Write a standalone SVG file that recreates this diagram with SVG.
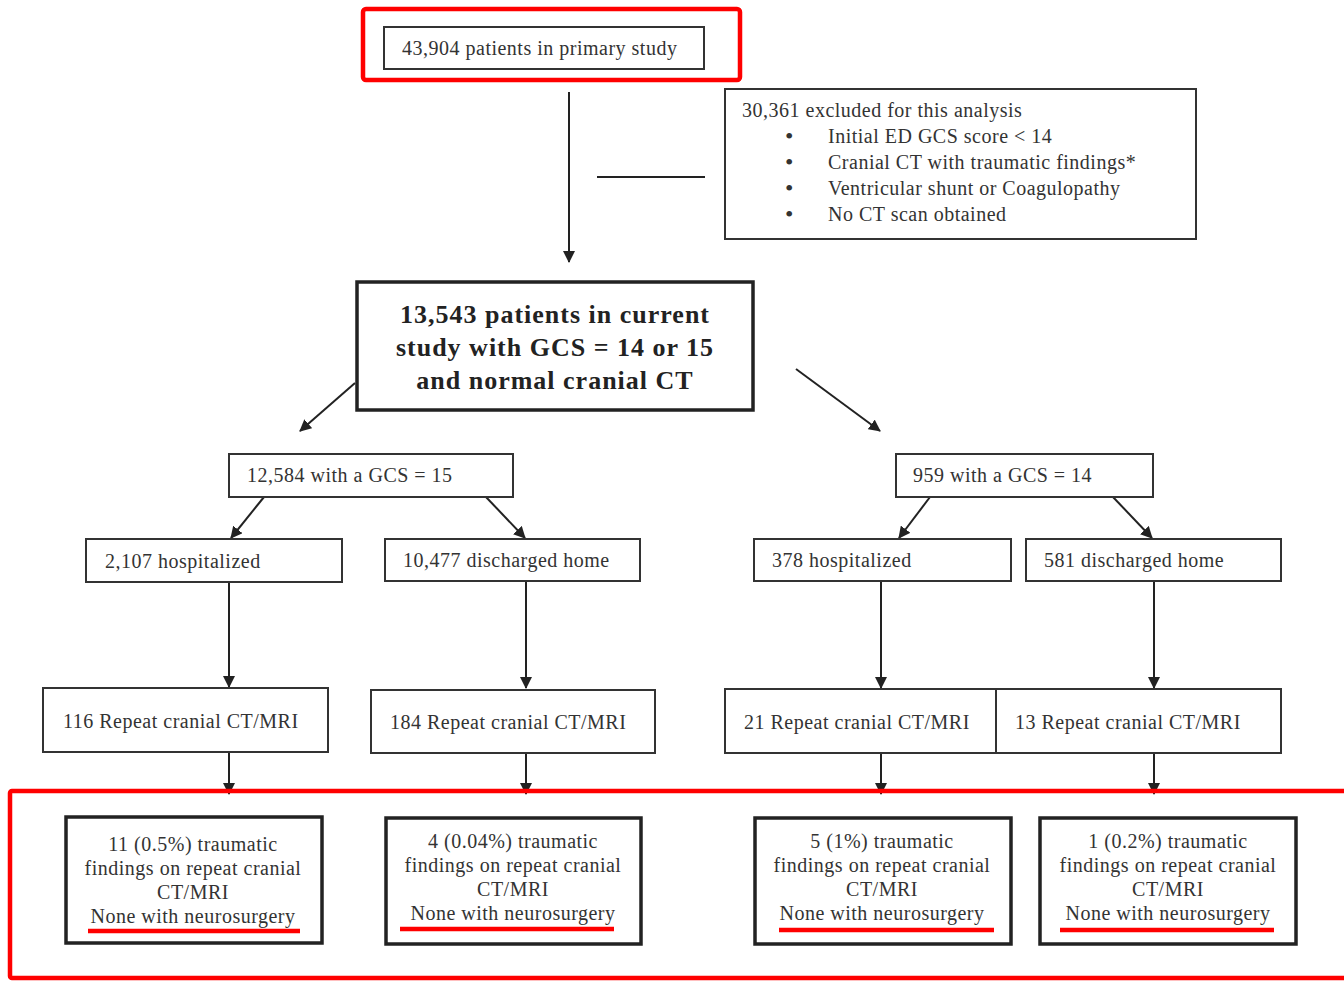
<svg xmlns="http://www.w3.org/2000/svg" width="1344" height="981" viewBox="0 0 1344 981">
<style>
.bx{fill:#fff;stroke:#333;stroke-width:2}
.bb{fill:#fff;stroke:#222;stroke-width:3.5}
.t{font-family:"Liberation Serif","Times New Roman",serif;font-size:20px;letter-spacing:0.5px;fill:#333}
.c{text-anchor:middle}
.b{font-weight:bold;font-size:26px;letter-spacing:1px;fill:#222}
.bul{font-size:24px;letter-spacing:0}
.ln{stroke:#222;stroke-width:2;fill:none}
.red{fill:none;stroke:#f00;stroke-width:4.5}
.ul{stroke:#f00;stroke-width:4.5}
</style>
<defs>
<marker id="ah" viewBox="0 0 12 12" refX="11" refY="6" markerWidth="12" markerHeight="12" markerUnits="userSpaceOnUse" orient="auto">
<path d="M0,0 L12,6 L0,12 Z" fill="#222"/>
</marker>
</defs>
<rect width="1344" height="981" fill="#fff"/>

<g id="connectors">
<path class="ln" d="M569 92 V262" marker-end="url(#ah)"/>
<path class="ln" d="M597 177 H705"/>
<path class="ln" d="M355 383 L300 431" marker-end="url(#ah)"/>
<path class="ln" d="M796 369 L880 431" marker-end="url(#ah)"/>
<path class="ln" d="M264 497 L231 538" marker-end="url(#ah)"/>
<path class="ln" d="M486 497 L525 538" marker-end="url(#ah)"/>
<path class="ln" d="M930 497 L899 538" marker-end="url(#ah)"/>
<path class="ln" d="M1113 497 L1152 538" marker-end="url(#ah)"/>
<path class="ln" d="M229 582 V687" marker-end="url(#ah)"/>
<path class="ln" d="M526 581 V688" marker-end="url(#ah)"/>
<path class="ln" d="M881 581 V688" marker-end="url(#ah)"/>
<path class="ln" d="M1154 581 V688" marker-end="url(#ah)"/>
<path class="ln" d="M229 752 V794" marker-end="url(#ah)"/>
<path class="ln" d="M526 753 V794" marker-end="url(#ah)"/>
<path class="ln" d="M881 753 V794" marker-end="url(#ah)"/>
<path class="ln" d="M1154 753 V794" marker-end="url(#ah)"/>
</g>

<g id="primary">
<rect class="bx" x="384" y="27" width="320" height="42"/>
<text class="t" x="402" y="55">43,904 patients in primary study</text>
</g>
<rect id="highlight-top" class="red" x="363" y="9" width="377" height="71" rx="3"/>

<g id="excluded">
<rect class="bx" x="725" y="89" width="471" height="150"/>
<text class="t" x="742" y="117">30,361 excluded for this analysis</text>
<text class="t bul" x="785" y="144">•</text><text class="t" x="828" y="143">Initial ED GCS score &lt; 14</text>
<text class="t bul" x="785" y="170">•</text><text class="t" x="828" y="169">Cranial CT with traumatic findings*</text>
<text class="t bul" x="785" y="196">•</text><text class="t" x="828" y="195">Ventricular shunt or Coagulopathy</text>
<text class="t bul" x="785" y="222">•</text><text class="t" x="828" y="221">No CT scan obtained</text>
</g>

<g id="current">
<rect class="bb" x="357" y="282" width="396" height="128"/>
<text class="t c b" x="555" y="323">13,543 patients in current</text>
<text class="t c b" x="555" y="356">study with GCS = 14 or 15</text>
<text class="t c b" x="555" y="389">and normal cranial CT</text>
</g>

<g id="gcs15">
<rect class="bx" x="229" y="454" width="284" height="43"/>
<text class="t" x="247" y="482">12,584 with a GCS = 15</text>
</g>
<g id="gcs14">
<rect class="bx" x="896" y="454" width="257" height="43"/>
<text class="t" x="913" y="482">959 with a GCS = 14</text>
</g>

<g id="hosp15">
<rect class="bx" x="86" y="539" width="256" height="43"/>
<text class="t" x="105" y="568">2,107 hospitalized</text>
</g>
<g id="home15">
<rect class="bx" x="385" y="539" width="255" height="42"/>
<text class="t" x="403" y="567">10,477 discharged home</text>
</g>
<g id="hosp14">
<rect class="bx" x="754" y="539" width="257" height="42"/>
<text class="t" x="772" y="567">378 hospitalized</text>
</g>
<g id="home14">
<rect class="bx" x="1026" y="539" width="255" height="42"/>
<text class="t" x="1044" y="567">581 discharged home</text>
</g>

<g id="rep116">
<rect class="bx" x="43" y="688" width="285" height="64"/>
<text class="t" x="63" y="728">116 Repeat cranial CT/MRI</text>
</g>
<g id="rep184">
<rect class="bx" x="371" y="690" width="284" height="63"/>
<text class="t" x="390" y="729">184 Repeat cranial CT/MRI</text>
</g>
<g id="rep21">
<rect class="bx" x="725" y="689" width="271" height="64"/>
<text class="t" x="744" y="729">21 Repeat cranial CT/MRI</text>
</g>
<g id="rep13">
<rect class="bx" x="996" y="689" width="285" height="64"/>
<text class="t" x="1015" y="729">13 Repeat cranial CT/MRI</text>
</g>

<g id="res1">
<rect class="bb" x="66" y="817" width="256" height="126"/>
<text class="t c" x="193" y="851">11 (0.5%) traumatic</text>
<text class="t c" x="193" y="875">findings on repeat cranial</text>
<text class="t c" x="193" y="899">CT/MRI</text>
<text class="t c" x="193" y="923">None with neurosurgery</text>
<line class="ul" x1="88" y1="931" x2="300" y2="931"/>
</g>
<g id="res2">
<rect class="bb" x="386" y="818" width="255" height="126"/>
<text class="t c" x="513" y="848">4 (0.04%) traumatic</text>
<text class="t c" x="513" y="872">findings on repeat cranial</text>
<text class="t c" x="513" y="896">CT/MRI</text>
<text class="t c" x="513" y="920">None with neurosurgery</text>
<line class="ul" x1="400" y1="929" x2="614" y2="929"/>
</g>
<g id="res3">
<rect class="bb" x="755" y="818" width="256" height="126"/>
<text class="t c" x="882" y="848">5 (1%) traumatic</text>
<text class="t c" x="882" y="872">findings on repeat cranial</text>
<text class="t c" x="882" y="896">CT/MRI</text>
<text class="t c" x="882" y="920">None with neurosurgery</text>
<line class="ul" x1="779" y1="930" x2="994" y2="930"/>
</g>
<g id="res4">
<rect class="bb" x="1040" y="818" width="256" height="126"/>
<text class="t c" x="1168" y="848">1 (0.2%) traumatic</text>
<text class="t c" x="1168" y="872">findings on repeat cranial</text>
<text class="t c" x="1168" y="896">CT/MRI</text>
<text class="t c" x="1168" y="920">None with neurosurgery</text>
<line class="ul" x1="1060" y1="930" x2="1274" y2="930"/>
</g>
<rect id="highlight-bottom" class="red" x="10" y="791" width="1345" height="187" rx="2"/>
</svg>
